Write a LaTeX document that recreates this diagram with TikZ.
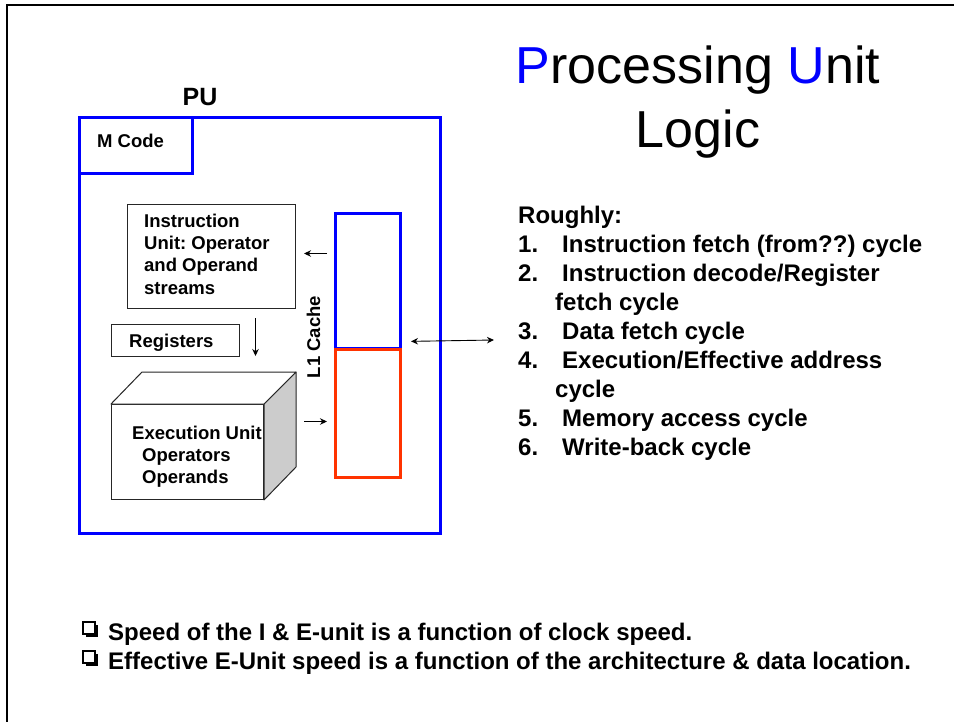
\documentclass[tikz,border=0pt]{standalone}
\usepackage{fontspec}
\setmainfont{Liberation Sans}
\usetikzlibrary{arrows.meta,calc}
\definecolor{publue}{RGB}{0,0,255}
\definecolor{cachered}{RGB}{255,51,0}
\definecolor{facegray}{RGB}{204,204,204}
\frenchspacing
\begin{document}
\begin{tikzpicture}[x=1pt,y=-1pt,
  lbl/.style={inner sep=0pt, font=\bfseries\fontsize{18.5}{22.4}\selectfont, align=left},
  biglbl/.style={inner sep=0pt, font=\bfseries\fontsize{24}{29.1}\selectfont, align=left},
  bluebox/.style={draw=publue, line width=3pt, inner sep=0pt, anchor=north west},
  redbox/.style={draw=cachered, line width=3pt, inner sep=0pt, anchor=north west},
  thinbox/.style={draw=black!85, line width=1pt, inner sep=0pt, anchor=north west},
  cubeline/.style={draw=black!85, line width=1pt, line join=round},
  arr/.style={-{Stealth[length=7pt,width=6.5pt]}, line width=0.9pt},
  darr/.style={{Stealth[length=7pt,width=6.5pt]}-{Stealth[length=7pt,width=6.5pt]}, line width=0.9pt},
  shadowsq/.style={fill=black},
  bulletsq/.style={draw=black, line width=1.1pt, fill=white}
]
\useasboundingbox (0,0) rectangle (954,721);
% slide frame
\draw[line width=2.5pt] (7,730) -- (7,5) -- (960,5);

% title
\node[font=\fontsize{52}{64}\selectfont, align=center, inner sep=0pt, anchor=north] (title) at (698,45.5)
  {{\color{publue}P}rocessing {\color{publue}U}nit\\Logic};

% PU
\node[inner sep=0pt, font=\bfseries\fontsize{25}{30}\selectfont, anchor=base] (put) at (200,105) {PU};
\node[bluebox, minimum width=361pt, minimum height=416pt] (pu) at (78,116) {};
\node[bluebox, minimum width=113pt, minimum height=56pt] (mcode) at (78,116) {};
\node[lbl, anchor=base west] (mcodet) at (97,147) {M Code};

% instruction unit
\node[thinbox, minimum width=168pt, minimum height=104pt] (instr) at (127,204) {};
\node[lbl, anchor=north west] (instrt) at (144,213.5) {Instruction\\Unit: Operator\\and Operand\\streams};

% registers
\node[thinbox, minimum width=128pt, minimum height=32pt] (reg) at (111,324) {};
\node[lbl, anchor=base west] (regt) at (129,347.5) {Registers};

% execution unit cube
\node[thinbox, minimum width=152pt, minimum height=95pt, fill=white] (exec) at (111,404) {};
\draw[cubeline, fill=facegray] (exec.north east) -- ++(32,-32) -- ++(0,95) -- (exec.south east) -- cycle;
\draw[cubeline, fill=white] (exec.north west) -- ++(31,-32) -- ($(exec.north east)+(32,-32)$) -- (exec.north east) -- cycle;
\node[lbl, anchor=north west] (exect) at (132,425.5) {Execution Unit\\\hspace*{10pt}Operators\\\hspace*{10pt}Operands};
\coordinate (cubeR) at ($(exec.east)+(32,0)$);

% L1 cache
\node[bluebox, minimum width=65pt, minimum height=135pt] (icache) at (334,212) {};
\node[redbox, minimum width=65pt, minimum height=128pt] (dcache) at (334,348) {};
\node[lbl, rotate=90, anchor=base] (l1) at (320,337) {L1 Cache};

% arrows
\coordinate (la) at ([yshift=27.5pt]icache.west);
\draw[arr, shorten <=7pt, shorten >=8pt] (la) -- (la -| instr.east);
\coordinate (ra) at ([yshift=-8pt]dcache.west);
\draw[arr, shorten <=8pt, shorten >=7pt] (ra -| cubeR) -- (ra);
\coordinate (dtop) at ([xshift=44pt]instr.south);
\draw[arr, shorten <=9pt, shorten >=1pt] (dtop) -- (dtop |- reg.south);
\coordinate (dd) at ([yshift=-60.5pt]icache.east);
\coordinate (ext) at (494,340);
\draw[darr, shorten <=9pt] (dd) -- (ext);

% list
\node[biglbl, anchor=north west] (list) at (518,205.5) {Roughly:\\
\makebox[44pt][l]{1.}Instruction fetch (from??) cycle\\
\makebox[44pt][l]{2.}Instruction decode/Register\\
\hspace*{37pt}fetch cycle\\
\makebox[44pt][l]{3.}Data fetch cycle\\
\makebox[44pt][l]{4.}Execution/Effective address\\
\hspace*{37pt}cycle\\
\makebox[44pt][l]{5.}Memory access cycle\\
\makebox[44pt][l]{6.}Write-back cycle};

% bottom bullets
\node[biglbl, anchor=base west] (b1) at (108,640) {Speed of the I \& E-unit is a function of clock speed.};
\node[biglbl, anchor=base west] (b2) at (108,669) {Effective E-Unit speed is a function of the architecture \& data location.};
\foreach \b in {b1,b2}{
  \fill[shadowsq] ($(\b.base west)+(-22.5,-15.5)$) rectangle ++(12.5,12.5);
  \draw[bulletsq] ($(\b.base west)+(-25,-18)$) rectangle ++(12,12);
}
\end{tikzpicture}
\end{document}
